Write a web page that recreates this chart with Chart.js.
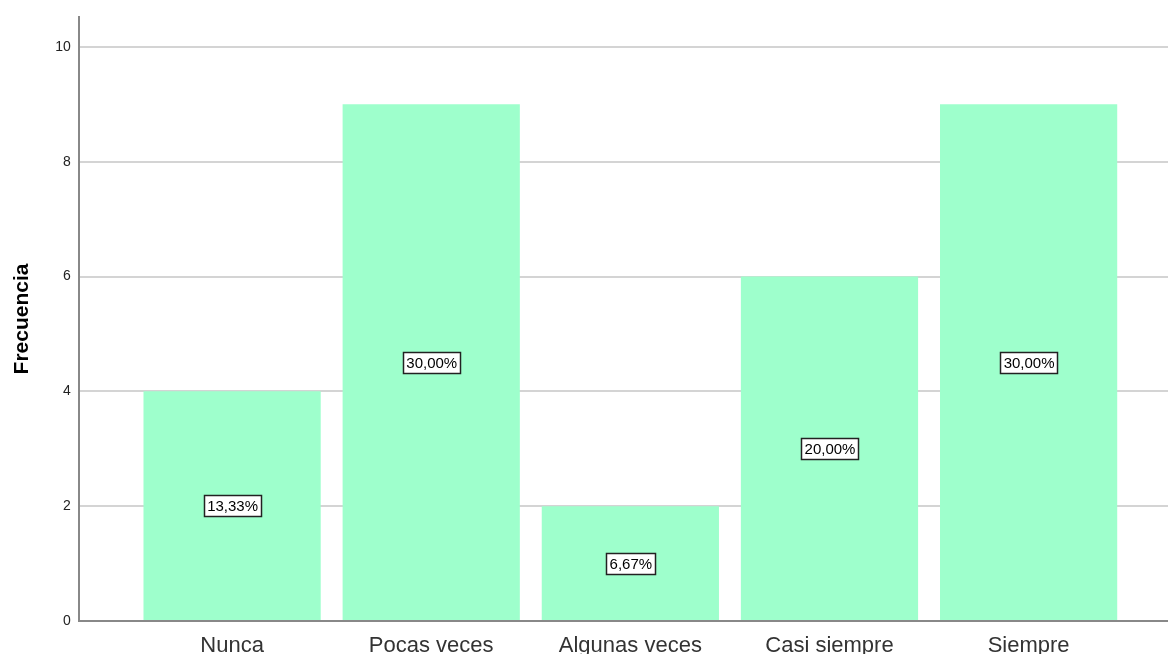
<!DOCTYPE html>
<html>
<head>
<meta charset="utf-8">
<script src="https://cdn.jsdelivr.net/npm/chart.js@4"></script>
<style>
  html, body { margin: 0; padding: 0; background: #fff; }
  #wrap { width: 1168px; height: 654px; }
</style>
</head>
<body>
<div id="wrap"><canvas id="freqChart"></canvas></div>
<script>
const categories = ["Nunca", "Pocas veces", "Algunas veces", "Casi siempre", "Siempre"];
const counts = [4, 9, 2, 6, 9];
const yTicks = [0, 2, 4, 6, 8, 10];

const total = counts.reduce((a, b) => a + b, 0);

// boxed percentage label in the middle of each bar
const pctLabels = {
    id: "pctLabels",
    afterDatasetsDraw(chart) {
        const ctx = chart.ctx;
        const meta = chart.getDatasetMeta(0);
        ctx.save();
        ctx.font = "15px Arial, 'Liberation Sans', sans-serif";
        ctx.textAlign = "center";
        ctx.textBaseline = "middle";
        meta.data.forEach(function (bar, i) {
            const txt = (counts[i] / total * 100).toFixed(2).replace(".", ",") + "%";
            const y = (bar.y + bar.base) / 2;
            const w = Math.round(ctx.measureText(txt).width + 6);
            const h = 21;
            const x0 = Math.round(bar.x - w / 2), y0 = Math.round(y - h / 2);
            ctx.fillStyle = "#fff";
            ctx.fillRect(x0, y0, w, h);
            ctx.strokeStyle = "#222";
            ctx.lineWidth = 1.5;
            ctx.strokeRect(x0 + 0.5, y0 + 0.5, w, h);
            ctx.fillStyle = "#000";
            ctx.fillText(txt, bar.x + 0.5, y + 1.5);
        });
        ctx.restore();
    }
};

new Chart(document.getElementById("freqChart"), {
    type: "bar",
    data: {
        datasets: [
            {
                label: "Frecuencia",
                data: counts.map((v, i) => ({ x: i, y: v })),
                backgroundColor: "#9effcc",
                barPercentage: 0.89,
                categoryPercentage: 1.0,
            },
        ],
    },
    options: {
        responsive: true,
        maintainAspectRatio: false,
        animation: false,
        layout: { padding: { top: 17, right: 0, bottom: 0, left: 2 } },
        plugins: {
            legend: { display: false },
            tooltip: { enabled: false },
        },
        scales: {
            x: {
                type: "linear",
                offset: false,
                min: -0.77,
                max: 4.7,
                afterBuildTicks: (scale) => {
                    scale.ticks = categories.map((c, i) => ({ value: i }));
                },
                afterFit: (scale) => {
                    scale.height = 33;
                },
                ticks: {
                    autoSkip: false,
                    maxRotation: 0,
                    color: "#333",
                    font: { size: 22, family: "Arial, 'Liberation Sans', sans-serif" },
                    padding: 12,
                    callback: (v) => categories[v],
                },
                grid: { display: false, drawTicks: false },
                border: { color: "#888", width: 2 },
            },
            y: {
                min: 0,
                max: 10.52,
                afterBuildTicks: (scale) => {
                    scale.ticks = yTicks.map((v) => ({ value: v }));
                },
                ticks: {
                    color: "#222",
                    font: { size: 14, family: "Arial, 'Liberation Sans', sans-serif" },
                    padding: 8,
                },
                grid: { color: "#d4d4d4", lineWidth: 2, drawTicks: false },
                border: { color: "#888", width: 2 },
                title: {
                    display: true,
                    text: "Frecuencia",
                    color: "#000",
                    font: { size: 21, weight: "bold", family: "Arial, 'Liberation Sans', sans-serif" },
                    padding: { top: 8, bottom: 12 },
                },
            },
        },
    },
    plugins: [pctLabels],
});
</script>
</body>
</html>
